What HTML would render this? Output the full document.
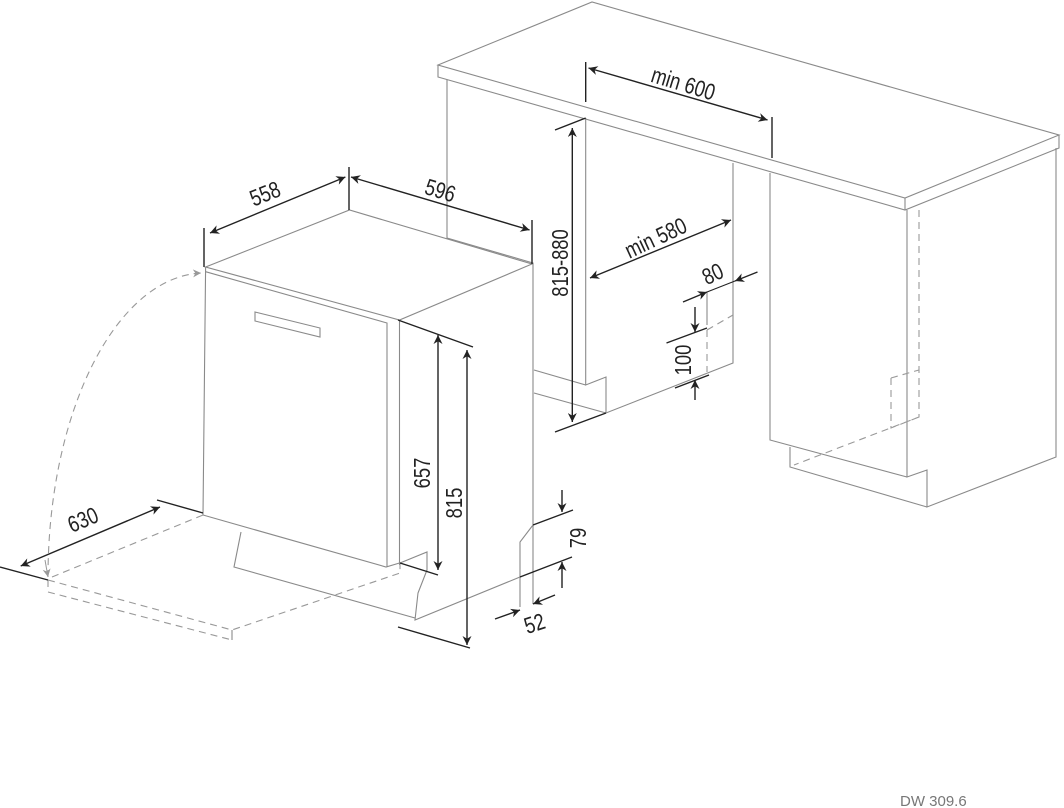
<!DOCTYPE html>
<html><head><meta charset="utf-8"><style>
html,body{margin:0;padding:0;background:#fff;}
svg{display:block;}
text{font-family:"Liberation Sans",Arial,sans-serif;fill:#222;}
</style></head><body>
<svg width="1064" height="808" viewBox="0 0 1064 808" xmlns="http://www.w3.org/2000/svg">
<defs>
<marker id="a" viewBox="0 0 10 10" refX="10" refY="5" markerWidth="12" markerHeight="9" markerUnits="userSpaceOnUse" orient="auto-start-reverse"><path d="M0,0 L10,5 L0,10 L3,5 z" fill="#222"/></marker>
<marker id="g" viewBox="0 0 10 10" refX="10" refY="5" markerWidth="10" markerHeight="8" markerUnits="userSpaceOnUse" orient="auto"><path d="M0,0 L10,5 L0,10 L3,5 z" fill="#999"/></marker>
</defs>
<g fill="none" stroke="#8a8a8a" stroke-width="1.1">
<path d="M438,65 L592,2 L1059,135 L905,198 Z"/>
<path d="M438,65 L438,77 L905,210 L1059,148 L1059,135 M905,198 L905,210"/>
<path d="M447,80 L447,238 L533,263 L533,525"/>
<path d="M585.7,118 L585.7,385 L606,377 L606,413 L733,363 L733,163"/>
<path d="M534,370 L585.7,385 M534,393 L606,413"/>
<path d="M770,173 L770,440 L907,477 M907,210 L907,477 L927,470 L927,507 L1056,457 L1056,148"/>
<path d="M790,447 L790,467 L927,507"/>
<path d="M205.6,267 L349.5,210 L532,264 L399.5,320 Z"/>
<path d="M205.6,271.7 L387,323 L387,567 M205.6,267 L203,515 L386,567 L399.5,563 M399.5,320 L399.5,565"/>
<path d="M255,312 L320,328 L320,337 L255,321 Z"/>
<path d="M241,532 L234,567 L415,618 M400,563 L427,552 L427,570 L418,593 L415,620 L520,577"/>
<path d="M533,525 L520,542 L520,607 M533,525 L533,604"/>
<path d="M707,292 L707,325"/>
</g>
<g fill="none" stroke="#999" stroke-width="1.1" stroke-dasharray="7,5">
<path d="M919,210 L919,417 L794,465 M891,378 L891,428 L919,417 M891,378 L919,370"/>
<path d="M707,330 L707,372 M707,330 L733,315"/>
<path d="M48,577 A157,304 0 0 1 201,273" marker-end="url(#g)"/>
<path d="M52,577 L203,515 M48,580 L48,592 L232,640 M48,580 L232,630 L400,573 L400,563"/>
</g>
<path d="M45,560 L48,577" fill="none" stroke="#999" stroke-width="1" marker-end="url(#g)"/>
<path d="M232,630 L232,640" stroke="#8a8a8a" stroke-width="1.1"/>
<g fill="none" stroke="#222" stroke-width="1.4">
<path d="M204,228 L204,267 M349,167 L349,210 M532,220 L532,264"/>
<path d="M210,233 L345.4,177" marker-start="url(#a)" marker-end="url(#a)"/>
<path d="M351,177 L529.6,230" marker-start="url(#a)" marker-end="url(#a)"/>
<path d="M157,500 L203,513 M0,567 L48,580"/>
<path d="M20.7,566 L160,507" marker-start="url(#a)" marker-end="url(#a)"/>
<path d="M398,320 L473,347 M400,563 L438,575 M398,627 L470,648"/>
<path d="M438,335 L438,570" marker-start="url(#a)" marker-end="url(#a)"/>
<path d="M467,350 L467,645" marker-start="url(#a)" marker-end="url(#a)"/>
<path d="M533,525 L573,510 M520,577 L572,557"/>
<path d="M562,490 L562,512" marker-end="url(#a)"/>
<path d="M562,588 L562,562" marker-end="url(#a)"/>
<path d="M495,619 L520,610" marker-end="url(#a)"/>
<path d="M555,595 L533,604" marker-end="url(#a)"/>
<path d="M585.7,62 L585.7,102 M772,117 L772,158"/>
<path d="M588.5,68 L767.6,120" marker-start="url(#a)" marker-end="url(#a)"/>
<path d="M555,130 L585.7,118 M555,432 L606,413"/>
<path d="M572.3,128 L572.3,422" marker-start="url(#a)" marker-end="url(#a)"/>
<path d="M590,278 L731,220" marker-start="url(#a)" marker-end="url(#a)"/>
<path d="M683,302 L707,292" marker-end="url(#a)"/>
<path d="M757.5,272 L735,281" marker-end="url(#a)"/>
<path d="M707,292 L735,281" stroke-width="1"/>
<path d="M666.5,343 L707,328 M675,388 L709,375"/>
<path d="M695,307 L695,332" marker-end="url(#a)"/>
<path d="M695,400 L695,380" marker-end="url(#a)"/>
</g>
<g font-size="23">
<text transform="translate(268,201) rotate(-22) scale(0.8,1)" text-anchor="middle">558</text>
<text transform="translate(438,198) rotate(17) scale(0.8,1)" text-anchor="middle">596</text>
<text transform="translate(86,527) rotate(-23) scale(0.8,1)" text-anchor="middle">630</text>
<text transform="translate(430,473) rotate(-90) scale(0.8,1)" text-anchor="middle">657</text>
<text transform="translate(462,503) rotate(-90) scale(0.8,1)" text-anchor="middle">815</text>
<text transform="translate(586,538) rotate(-90) scale(0.8,1)" text-anchor="middle">79</text>
<text transform="translate(537,631) rotate(-18) scale(0.8,1)" text-anchor="middle">52</text>
<text transform="translate(681,91) rotate(17) scale(0.8,1)" text-anchor="middle">min 600</text>
<text transform="translate(568,263) rotate(-90) scale(0.8,1)" text-anchor="middle">815-880</text>
<text transform="translate(659,245) rotate(-25) scale(0.8,1)" text-anchor="middle">min 580</text>
<text transform="translate(716,281) rotate(-25) scale(0.8,1)" text-anchor="middle">80</text>
<text transform="translate(691,360) rotate(-90) scale(0.8,1)" text-anchor="middle">100</text>
</g>
<text x="900" y="806" font-size="15" style="fill:#777">DW 309.6</text>
</svg>
</body></html>
